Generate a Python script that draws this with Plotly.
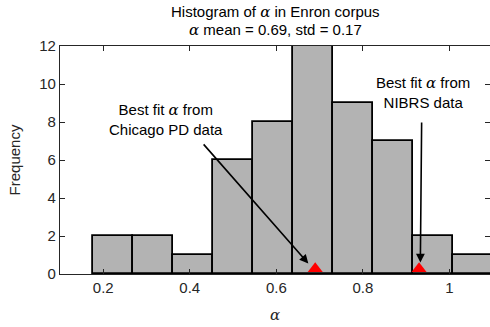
import plotly.graph_objects as go

# Histogram of alpha estimates (bin edges and counts per bin)
bin_edges = [0.176, 0.269, 0.361, 0.454, 0.546, 0.639, 0.731, 0.824, 0.916, 1.009, 1.101]
counts = [2, 2, 1, 6, 8, 12, 9, 7, 2, 1]

# Best-fit alpha values from the two external datasets
fit_labels = ["Chicago PD", "NIBRS"]
fit_alpha = [0.69, 0.93]

x_ticks = [0.2, 0.4, 0.6, 0.8, 1.0]
x_tick_text = ["0.2", "0.4", "0.6", "0.8", "1"]
y_ticks = [0, 2, 4, 6, 8, 10, 12]

ALPHA = '<span style="font-family:DejaVu Serif"><i>α</i></span>'
FONT = "Liberation Sans, Arial, sans-serif"

W, H = 490, 327
ML, MR, MT, MB = 60, 0, 46, 53
x_range = [0.1, 1.094]
y_range = [0, 12]
plot_h = H - MT - MB
px_per_y = plot_h / (y_range[1] - y_range[0])

centers = [(a + b) / 2 for a, b in zip(bin_edges[:-1], bin_edges[1:])]
widths = [b - a for a, b in zip(bin_edges[:-1], bin_edges[1:])]

fig = go.Figure()
fig.add_trace(go.Bar(
    x=centers, y=counts, width=widths,
    marker=dict(color="#b3b3b3", line=dict(color="black", width=1.8)),
    showlegend=False, hoverinfo="x+y",
))

# Red triangles sitting on the x axis
tri_size = 13
tri_offset = (tri_size * 0.8 / 2) / px_per_y
fig.add_trace(go.Scatter(
    x=fit_alpha, y=[tri_offset] * len(fit_alpha), mode="markers",
    marker=dict(symbol="triangle-up", size=tri_size, color="red"),
    cliponaxis=False, showlegend=False, text=fit_labels,
))

# Right-hand tick marks (no right border line)
fig.add_trace(go.Scatter(x=[None], y=[None], yaxis="y2", showlegend=False))

TXT = dict(family=FONT, size=15, color="black")
ARROW = dict(text="", font=dict(size=1), showarrow=True, arrowhead=2,
             arrowsize=1.1, arrowwidth=1.6, arrowcolor="black",
             xref="x", yref="y", axref="x", ayref="y")

annotations = [
    # two-line title above the axes
    dict(x=0.5, y=(plot_h + 34) / plot_h, xref="paper", yref="paper",
         text="Histogram of " + ALPHA + " in Enron corpus",
         showarrow=False, font=TXT, yanchor="middle"),
    dict(x=0.5, y=(plot_h + 16) / plot_h, xref="paper", yref="paper",
         text=ALPHA + " mean = 0.69, std = 0.17",
         showarrow=False, font=TXT, yanchor="middle"),
    dict(x=0.346, y=8.13, xref="x", yref="y",
         text="Best fit " + ALPHA + " from<br>Chicago PD data",
         showarrow=False, font=TXT),
    dict(x=0.94, y=9.53, xref="x", yref="y",
         text="Best fit " + ALPHA + " from<br>NIBRS data",
         showarrow=False, font=TXT),
    dict(x=fit_alpha[0] - 0.016, y=0.55, ax=0.429, ay=6.9, **ARROW),
    dict(x=fit_alpha[1] + 0.003, y=0.6, ax=fit_alpha[1] + 0.006, ay=8.05, **ARROW),
]

fig.update_layout(
    width=W, height=H,
    margin=dict(l=ML, r=MR, t=MT, b=MB),
    paper_bgcolor="white", plot_bgcolor="white",
    font=dict(family=FONT, size=15, color="#262626"),
    bargap=0,
    xaxis=dict(
        range=x_range, tickvals=x_ticks, ticktext=x_tick_text,
        ticks="inside", ticklen=5, tickwidth=1, tickcolor="#262626",
        showline=True, linecolor="#262626", linewidth=1.3, mirror="ticks",
        showgrid=False, zeroline=False,
        title=dict(text=ALPHA, font=dict(size=15), standoff=14),
        tickfont=dict(size=15, color="#262626"),
    ),
    yaxis=dict(
        range=y_range, tickvals=y_ticks,
        ticks="inside", ticklen=5, tickwidth=1, tickcolor="#262626",
        showline=True, linecolor="#262626", linewidth=1.3, mirror=False,
        showgrid=False, zeroline=False,
        title=dict(text="Frequency", font=dict(size=15), standoff=14),
        tickfont=dict(size=15, color="#262626"),
    ),
    yaxis2=dict(
        range=y_range, tickvals=y_ticks, overlaying="y", side="right",
        ticks="inside", ticklen=5, tickwidth=1, tickcolor="#262626",
        showticklabels=False, showline=False, showgrid=False, zeroline=False,
    ),
    annotations=annotations,
)

fig.write_html("out.html")
